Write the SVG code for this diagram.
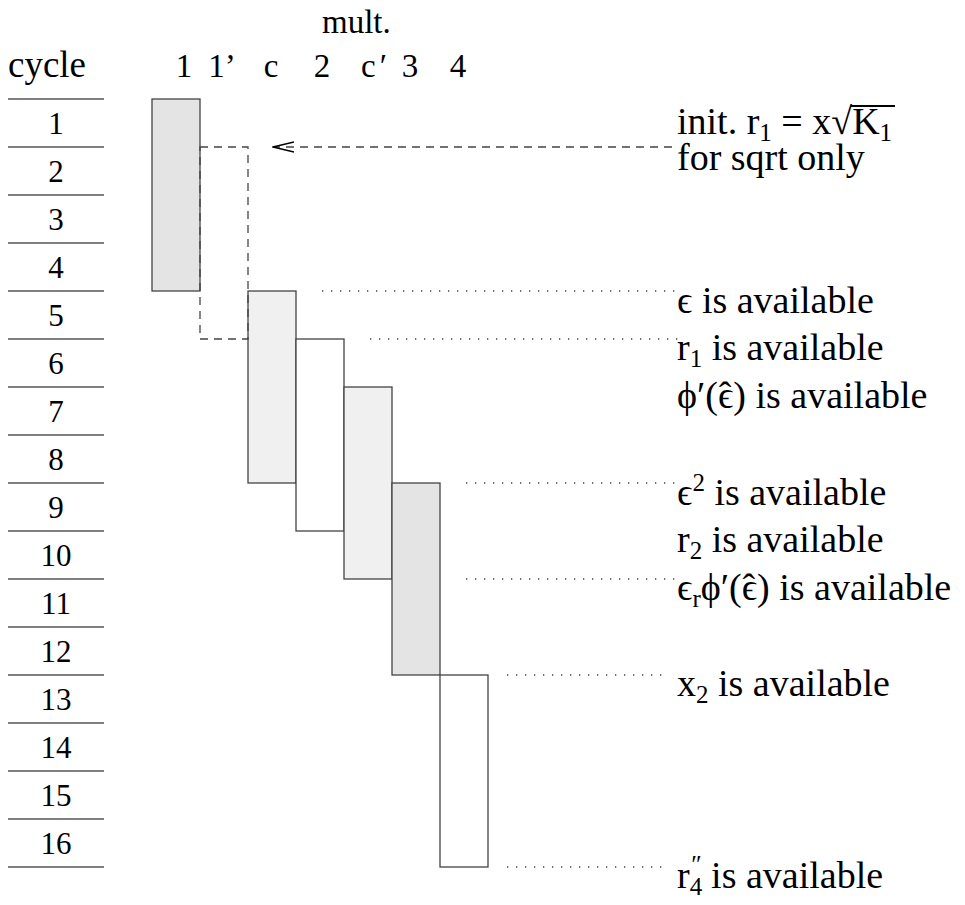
<svg xmlns="http://www.w3.org/2000/svg" width="965" height="905" viewBox="0 0 965 905">
<style>
text{font-family:"Liberation Serif","Times New Roman",serif;fill:#000}
.hd{font-size:33px}
.cy{font-size:37px}
.num{font-size:31px;text-anchor:middle}
.lbl{font-size:38px}
.sub{font-size:25px}
.row{stroke:#555;stroke-width:1.5}
.box{stroke:#444;stroke-width:1.3}
.dash{fill:none;stroke:#444;stroke-width:1.3;stroke-dasharray:8 6}
.dot{fill:none;stroke:#444;stroke-width:1.3;stroke-dasharray:1.3 7.7}
</style>
<defs>
<marker id="open" viewBox="0 0 22 12" refX="22" refY="6" markerWidth="22" markerHeight="12" markerUnits="userSpaceOnUse" orient="auto">
<path d="M0,1 L21,6 L0,11" fill="none" stroke="#000" stroke-width="1.4"/>
</marker>
</defs>
<g id="header">
<text class="hd" x="322" y="33">mult.</text>
<text class="cy" x="8" y="77">cycle</text>
<text class="hd" x="184" y="77" text-anchor="middle">1</text>
<text class="hd" x="222" y="77" text-anchor="middle">1’</text>
<text class="hd" x="271" y="77" text-anchor="middle">c</text>
<text class="hd" x="322" y="77" text-anchor="middle">2</text>
<text class="hd" x="361" y="77">c<tspan dx="4">′</tspan></text>
<text class="hd" x="410" y="77" text-anchor="middle">3</text>
<text class="hd" x="458" y="77" text-anchor="middle">4</text>
</g>
<g id="cycles">
<line class="row" x1="8" y1="99" x2="104" y2="99"/>
<line class="row" x1="8" y1="147" x2="104" y2="147"/>
<line class="row" x1="8" y1="195" x2="104" y2="195"/>
<line class="row" x1="8" y1="243" x2="104" y2="243"/>
<line class="row" x1="8" y1="291" x2="104" y2="291"/>
<line class="row" x1="8" y1="339" x2="104" y2="339"/>
<line class="row" x1="8" y1="387" x2="104" y2="387"/>
<line class="row" x1="8" y1="435" x2="104" y2="435"/>
<line class="row" x1="8" y1="483" x2="104" y2="483"/>
<line class="row" x1="8" y1="531" x2="104" y2="531"/>
<line class="row" x1="8" y1="579" x2="104" y2="579"/>
<line class="row" x1="8" y1="627" x2="104" y2="627"/>
<line class="row" x1="8" y1="675" x2="104" y2="675"/>
<line class="row" x1="8" y1="723" x2="104" y2="723"/>
<line class="row" x1="8" y1="771" x2="104" y2="771"/>
<line class="row" x1="8" y1="819" x2="104" y2="819"/>
<line class="row" x1="8" y1="867" x2="104" y2="867"/>
<text class="num" x="56" y="134">1</text>
<text class="num" x="56" y="182">2</text>
<text class="num" x="56" y="230">3</text>
<text class="num" x="56" y="278">4</text>
<text class="num" x="56" y="326">5</text>
<text class="num" x="56" y="374">6</text>
<text class="num" x="56" y="422">7</text>
<text class="num" x="56" y="470">8</text>
<text class="num" x="56" y="518">9</text>
<text class="num" x="56" y="566">10</text>
<text class="num" x="56" y="614">11</text>
<text class="num" x="56" y="662">12</text>
<text class="num" x="56" y="710">13</text>
<text class="num" x="56" y="758">14</text>
<text class="num" x="56" y="806">15</text>
<text class="num" x="56" y="854">16</text>
</g>
<g id="mult1"><rect class="box" x="152" y="99" width="48" height="192" fill="#e4e4e4"/></g>
<g id="multc"><rect class="box" x="248" y="291" width="48" height="192" fill="#f0f0f0"/></g>
<g id="mult2"><rect class="box" x="296" y="339" width="48" height="192" fill="#fff"/></g>
<g id="multcp"><rect class="box" x="344" y="387" width="48" height="192" fill="#f0f0f0"/></g>
<g id="mult3"><rect class="box" x="392" y="483" width="48" height="192" fill="#e4e4e4"/></g>
<g id="mult4"><rect class="box" x="440" y="675" width="48" height="192" fill="#fff"/></g>
<g id="mult1p"><rect class="dash" x="200" y="147" width="48" height="192"/></g>
<g id="connectors">
<line class="dash" x1="672" y1="147" x2="272" y2="147" marker-end="url(#open)"/>
<line class="dot" x1="322" y1="291" x2="678" y2="291"/>
<line class="dot" x1="370" y1="339" x2="678" y2="339"/>
<line class="dot" x1="466" y1="483" x2="678" y2="483"/>
<line class="dot" x1="466" y1="579" x2="678" y2="579"/>
<line class="dot" x1="507" y1="675" x2="664" y2="675"/>
<line class="dot" x1="507" y1="867" x2="664" y2="867"/>
</g>
<g id="labels">
<text class="lbl" x="677" y="134">init. r<tspan class="sub" dy="7">1</tspan><tspan dy="-7"> = x√</tspan><tspan>K</tspan><tspan class="sub" dy="7">1</tspan></text>
<line x1="851" y1="106" x2="895" y2="106" stroke="#000" stroke-width="1.8"/>
<text class="lbl" x="677" y="170">for sqrt only</text>
<text class="lbl" x="677" y="313">ϵ is available</text>
<text class="lbl" x="677" y="360">r<tspan class="sub" dy="7">1</tspan><tspan dy="-7"> is available</tspan></text>
<text class="lbl" x="677" y="408">ϕ′(ϵ<tspan dx="-14.5">ˆ</tspan><tspan dx="1.8">) is available</tspan></text>
<text class="lbl" x="677" y="505">ϵ<tspan class="sub" dy="-14">2</tspan><tspan dy="14"> is available</tspan></text>
<text class="lbl" x="677" y="552">r<tspan class="sub" dy="7">2</tspan><tspan dy="-7"> is available</tspan></text>
<text class="lbl" x="677" y="600">ϵ<tspan class="sub" dy="7">r</tspan><tspan dy="-7">ϕ′(ϵ</tspan><tspan dx="-14.5">ˆ</tspan><tspan dx="1.8">) is available</tspan></text>
<text class="lbl" x="677" y="696">x<tspan class="sub" dy="7">2</tspan><tspan dy="-7"> is available</tspan></text>
<text class="lbl" x="677" y="888">r<tspan class="sub" dy="7">4</tspan><tspan class="sub" dx="-11" dy="-22">″</tspan><tspan dy="15"> is available</tspan></text>
</g>
</svg>
